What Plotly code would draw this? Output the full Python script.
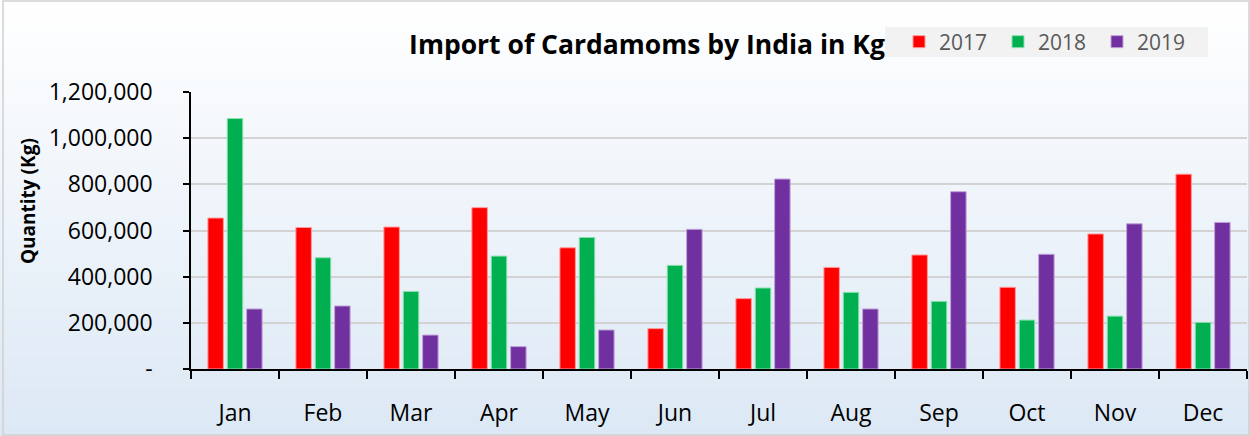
import plotly.graph_objects as go

months = ["Jan", "Feb", "Mar", "Apr", "May", "Jun", "Jul", "Aug", "Sep", "Oct", "Nov", "Dec"]
series_names = ["2017", "2018", "2019"]
values_2017 = [654000, 613000, 615000, 699000, 525000, 175000, 305000, 440000, 494000, 354000, 585000, 844000]
values_2018 = [1085000, 482000, 336000, 489000, 570000, 449000, 351000, 332000, 293000, 212000, 229000, 202000]
values_2019 = [260000, 273000, 147000, 97000, 169000, 605000, 823000, 260000, 768000, 497000, 629000, 635000]
y_tickvals = [0, 200000, 400000, 600000, 800000, 1000000, 1200000]
y_ticktext = ["-", "200,000", "400,000", "600,000", "800,000", "1,000,000", "1,200,000"]
title_text = "Import of Cardamoms by India in Kg"
y_title = "Quantity (Kg)"

colors = ["#ff0000", "#00b050", "#7030a0"]
edge_colors = ["#ff9a9a", "#8fe0b0", "#c0a0d8"]

W, H = 1250, 436
ML, MR, MT, MB = 191, 3, 92, 67
PW = W - ML - MR
PH = H - MT - MB


def px_x(px):
    return (px - ML) / PW


def px_y(py):
    return (H - MB - py) / PH


fig = go.Figure()
for name, vals, c, ec in zip(series_names, [values_2017, values_2018, values_2019], colors, edge_colors):
    fig.add_trace(go.Bar(
        x=months, y=vals, name=name,
        marker=dict(color=c, line=dict(color=ec, width=1)),
    ))

# background gradient (white top -> light blue bottom)
shapes = []
n = 60
top = (255, 255, 255)
bot = (220, 232, 245)
for i in range(n):
    f = (i + 0.5) / n
    col = tuple(round(top[k] + (bot[k] - top[k]) * f) for k in range(3))
    y0 = H * i / n
    y1 = H * (i + 1) / n + 0.6
    shapes.append(dict(
        type="rect", xref="paper", yref="paper", layer="below",
        x0=px_x(0), x1=px_x(W), y0=px_y(y1), y1=px_y(y0),
        fillcolor="rgb(%d,%d,%d)" % col, line=dict(width=0),
    ))
# chart border
shapes.append(dict(
    type="rect", xref="paper", yref="paper", layer="below",
    x0=px_x(3), x1=px_x(W - 1), y0=px_y(H - 1), y1=px_y(1),
    fillcolor="rgba(0,0,0,0)", line=dict(color="#d0d0d0", width=1.5),
))
# legend background box
shapes.append(dict(
    type="rect", xref="paper", yref="paper", layer="below",
    x0=px_x(885), x1=px_x(1208), y0=px_y(57), y1=px_y(27),
    fillcolor="#f2f2f2", line=dict(width=0),
))

font_family = "'Open Sans', Lato, sans-serif"

fig.update_layout(
    width=W, height=H,
    margin=dict(l=ML, r=MR, t=MT, b=MB, pad=0, autoexpand=False),
    paper_bgcolor="rgba(0,0,0,0)",
    plot_bgcolor="rgba(0,0,0,0)",
    barmode="group", bargap=0.34, bargroupgap=0.2,
    font=dict(family=font_family, color="#000000"),
    shapes=shapes,
    title=dict(
        text="<b>" + title_text + "</b>",
        x=647 / W, xanchor="center", xref="container",
        y=1 - 45 / H, yanchor="middle", yref="container",
        font=dict(size=26.5, family=font_family, color="#000000"),
    ),
    legend=dict(
        orientation="h", x=px_x(899), xanchor="left", y=px_y(42), yanchor="middle",
        bgcolor="rgba(0,0,0,0)", font=dict(size=21, color="#595959", family=font_family),
        entrywidth=54, entrywidthmode="pixels", traceorder="normal",
        itemclick=False,
    ),
    xaxis=dict(
        showline=True, linecolor="#000000", linewidth=1.5,
        ticks="outside", ticklen=8, tickcolor="#000000", tickwidth=1.5,
        tickson="boundaries", showgrid=False,
        tickfont=dict(size=23, color="#000000"), ticklabelstandoff=23,
    ),
    yaxis=dict(
        range=[0, 1200000], tickvals=y_tickvals, ticktext=y_ticktext,
        showline=True, linecolor="#000000", linewidth=1.5,
        ticks="outside", ticklen=6, tickcolor="#000000", tickwidth=1.5,
        showgrid=True, gridcolor="#d3d3d3", gridwidth=1.5, zeroline=False,
        tickfont=dict(size=23, color="#000000"), ticklabelstandoff=26,
    ),
    annotations=[dict(
        text="<b>" + y_title + "</b>", xref="paper", yref="paper",
        x=0, y=px_y(201), xanchor="center", yanchor="middle",
        xshift=28 - ML, textangle=-90, showarrow=False,
        font=dict(size=19, color="#000000", family=font_family),
    )],
)

fig.write_html("out.html", config={"displayModeBar": False},
               post_script="document.body.style.margin='0px';")
